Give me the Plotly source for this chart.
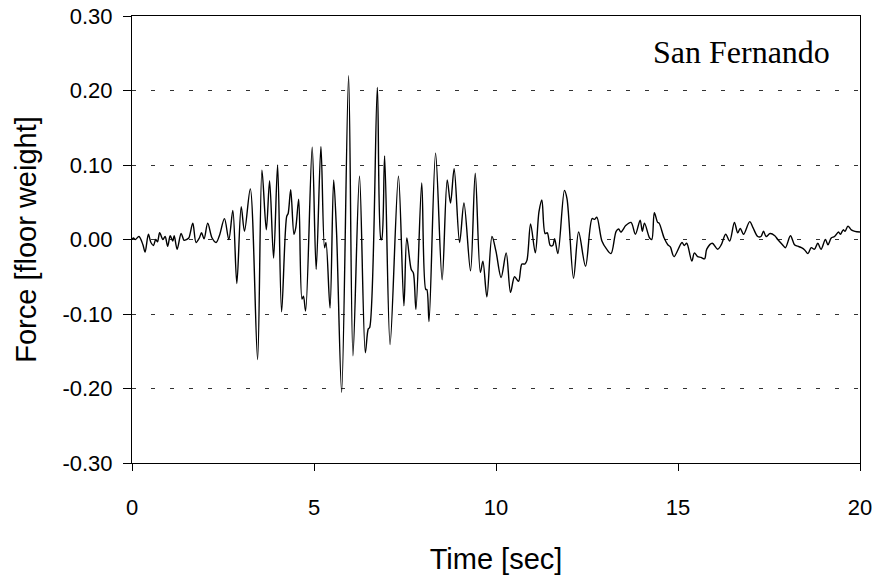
import plotly.graph_objects as go

# Time [sec] and force [floor weight]
time_s = [
    0.00, 0.04, 0.09, 0.19, 0.30, 0.36, 0.45, 0.52, 0.59, 0.65, 0.70, 0.76, 0.85, 0.91, 0.98,
    1.05, 1.12, 1.16, 1.24, 1.35, 1.43, 1.50, 1.56, 1.67, 1.76, 1.85, 1.91, 1.98, 2.08, 2.20,
    2.31, 2.40, 2.54, 2.66, 2.77, 2.88, 3.00, 3.09, 3.25, 3.45, 3.57, 3.69, 3.78, 3.89, 4.00,
    4.11, 4.25, 4.29, 4.36, 4.45, 4.50, 4.58, 4.67, 4.71, 4.77, 4.95, 5.06, 5.19, 5.29, 5.33,
    5.44, 5.54, 5.62, 5.76, 5.95, 6.07, 6.25, 6.41, 6.49, 6.53, 6.74, 6.84, 6.86, 6.94, 7.09,
    7.32, 7.47, 7.55, 7.67, 7.73, 7.80, 7.96, 8.07, 8.10, 8.16, 8.34, 8.52, 8.66, 8.75, 8.85,
    9.00, 9.12, 9.30, 9.43, 9.57, 9.64, 9.75, 9.89, 10.00, 10.14, 10.28, 10.40, 10.51, 10.62,
    10.71, 10.79, 10.85, 10.95, 11.08, 11.18, 11.26, 11.35, 11.41, 11.49, 11.56, 11.61, 11.70,
    11.88, 11.95, 12.13, 12.27, 12.46, 12.64, 12.71, 12.77, 12.91, 13.04, 13.16, 13.30, 13.37,
    13.43, 13.57, 13.71, 13.83, 13.96, 14.02, 14.08, 14.22, 14.28, 14.35, 14.44, 14.48, 14.62,
    14.72, 14.79, 14.89, 15.11, 15.17, 15.24, 15.38, 15.45, 15.54, 15.63, 15.73, 15.79, 15.94,
    16.09, 16.19, 16.31, 16.42, 16.55, 16.64, 16.71, 16.80, 16.97, 17.06, 17.19, 17.28, 17.35,
    17.42, 17.53, 17.66, 17.74, 17.87, 17.95, 18.09, 18.20, 18.29, 18.39, 18.48, 18.57, 18.66,
    18.75, 18.84, 18.93, 19.05, 19.12, 19.21, 19.30, 19.41, 19.46, 19.54, 19.59, 19.67, 19.76,
    19.86, 20.00,
]
force = [
    0.000, 0.002, 0.000, 0.004, -0.007, -0.017, 0.007, -0.004, -0.008, 0.000, -0.003, 0.009, 0.000, 0.004, -0.009,
    0.005, -0.002, 0.005, -0.013, 0.008, -0.001, 0.000, 0.002, 0.022, -0.004, 0.002, 0.009, 0.001, 0.022, 0.002,
    -0.004, 0.005, 0.028, 0.000, 0.039, -0.059, 0.044, 0.011, 0.068, -0.161, 0.093, 0.013, 0.079, -0.025, 0.100,
    -0.097, 0.031, 0.035, 0.067, 0.007, 0.016, 0.054, -0.080, -0.076, -0.096, 0.124, -0.040, 0.125, -0.011, -0.004,
    -0.092, 0.080, 0.009, -0.205, 0.220, -0.156, 0.085, -0.152, -0.120, -0.118, 0.204, 0.000, 0.000, 0.112, -0.141,
    0.085, -0.089, 0.002, -0.040, -0.045, -0.094, 0.076, -0.067, -0.067, -0.110, 0.116, -0.054, 0.080, 0.049, 0.095,
    -0.004, 0.049, -0.042, 0.089, -0.044, -0.029, -0.077, 0.004, -0.016, -0.051, -0.018, -0.071, -0.050, -0.056,
    -0.033, -0.033, -0.028, 0.021, -0.018, 0.037, 0.053, 0.008, 0.009, -0.008, -0.008, 0.001, -0.019,
    0.066, 0.055, -0.052, 0.010, -0.036, 0.028, 0.027, 0.030, -0.002, -0.013, -0.019, 0.011, 0.014,
    0.010, 0.019, 0.023, 0.007, 0.026, 0.011, 0.022, 0.002, 0.000, 0.036, 0.023, 0.022, 0.002,
    -0.007, -0.010, -0.023, -0.004, -0.008, -0.005, -0.029, -0.018, -0.023, -0.024, -0.026, -0.013, -0.005,
    -0.013, -0.007, 0.007, -0.002, 0.023, 0.009, 0.015, 0.007, 0.024, 0.016, 0.004, 0.004, 0.011,
    0.004, 0.008, 0.005, 0.000, -0.007, -0.011, 0.005, -0.007, -0.009, -0.011, -0.014, -0.019, -0.011,
    -0.013, -0.005, -0.013, 0.000, -0.007, 0.002, 0.004, 0.010, 0.007, 0.013, 0.011, 0.018, 0.013,
    0.011, 0.010,
]

x_ticks = [0, 5, 10, 15, 20]
y_ticks = [-0.30, -0.20, -0.10, 0.00, 0.10, 0.20, 0.30]
y_tick_text = ["-0.30", "-0.20", "-0.10", "0.00", "0.10", "0.20", "0.30"]

SANS = "Liberation Sans, Arial, sans-serif"
SERIF = "Liberation Serif, Times New Roman, serif"

fig = go.Figure()
fig.add_trace(go.Scatter(
    x=time_s, y=force, mode="lines",
    line=dict(color="black", width=1.4, shape="spline", smoothing=0.9),
    hoverinfo="skip",
))

fig.update_layout(
    width=876, height=577,
    margin=dict(l=132, r=16, t=16, b=114),
    plot_bgcolor="white", paper_bgcolor="white",
    showlegend=False,
    font=dict(family=SANS, color="black"),
)
fig.update_xaxes(
    range=[0, 20], tickvals=x_ticks, ticktext=[str(v) for v in x_ticks],
    ticks="outside", ticklen=7, tickcolor="black", tickwidth=1,
    showline=True, linecolor="black", linewidth=1, mirror=True,
    showgrid=False, zeroline=False, automargin=False,
    tickfont=dict(family=SANS, size=22, color="black"),
    ticklabelstandoff=18,
    title=dict(text="Time [sec]", font=dict(family=SANS, size=29, color="black"), standoff=29),
)
fig.update_yaxes(
    range=[-0.30, 0.30], tickvals=y_ticks, ticktext=y_tick_text,
    ticks="outside", ticklen=8, tickcolor="black", tickwidth=1,
    showline=True, linecolor="black", linewidth=1, mirror=True,
    showgrid=True, gridcolor="#333333", gridwidth=1, griddash="4px,15px",
    zeroline=False, automargin=False,
    tickfont=dict(family=SANS, size=22, color="black"),
    ticklabelstandoff=6,
    title=dict(text="Force [floor weight]", font=dict(family=SANS, size=29, color="black"), standoff=17),
)
fig.add_annotation(
    text="San Fernando", xref="paper", yref="paper",
    x=0.962, y=0.92, xanchor="right", yanchor="middle",
    showarrow=False, font=dict(family=SERIF, size=32, color="black"),
)

fig.write_html("out.html")
